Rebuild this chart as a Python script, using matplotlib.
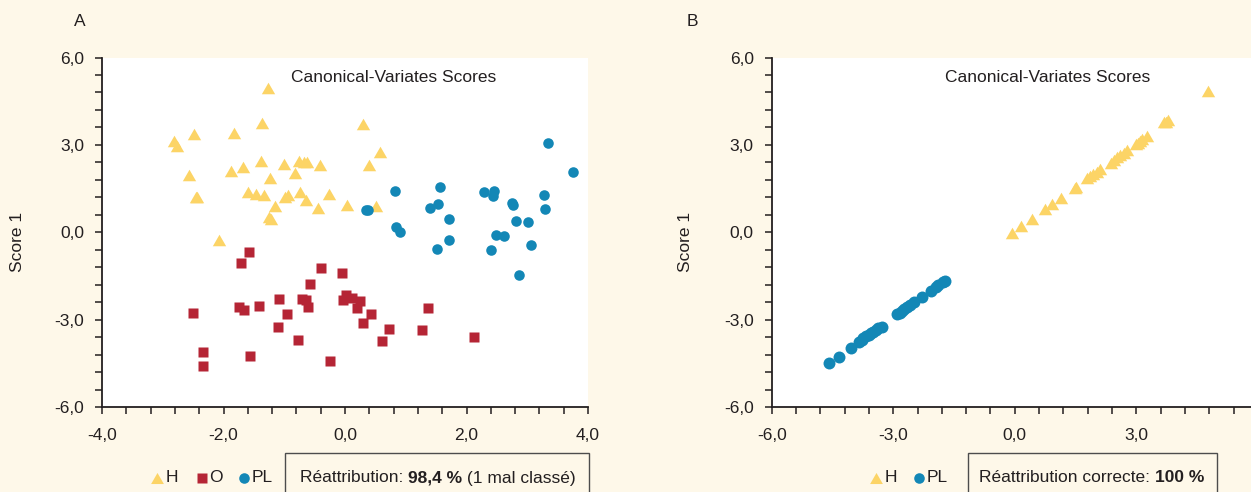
import numpy as np
import matplotlib
matplotlib.use("Agg")
import matplotlib.pyplot as plt
from matplotlib.lines import Line2D
from matplotlib.patches import Rectangle
from matplotlib.ticker import FuncFormatter, FixedLocator

plt.rcParams['font.family'] = ['Liberation Sans Narrow', 'Liberation Sans', 'DejaVu Sans']

# ---------------- data : panel A ----------------
a_h_x = [-1.27, -1.36, 0.30, -2.81, -2.76, -2.48, -1.83, 0.57, -2.57, -1.87, -1.68, -1.38,
         -1.23, -1.00, -0.82, -0.76, -0.63, -0.67, -0.41, 0.39, -2.43, -2.46, -1.59, -1.46,
         -1.34, -0.74, -0.94, -0.98, -0.26, -0.64, -1.15, 0.03, -0.44, 0.51, -1.25, -1.21, -2.07]
a_h_y = [4.94, 3.76, 3.72, 3.14, 2.96, 3.39, 3.42, 2.76, 1.98, 2.12, 2.24, 2.46,
         1.87, 2.36, 2.03, 2.46, 2.43, 2.43, 2.30, 2.30, 1.22, 1.20, 1.40, 1.31,
         1.29, 1.39, 1.27, 1.20, 1.31, 1.11, 0.92, 0.93, 0.83, 0.92, 0.52, 0.47, -0.27]

a_o_x = [-1.58, -1.72, -0.39, -0.05, -0.57, -2.51, -1.74, -1.66, -1.42, -1.08, -0.70, -0.64,
         -0.61, -0.96, -1.11, -0.78, -0.04, 0.01, 0.11, 0.24, 0.19, 0.42, 0.30, 0.73,
         0.61, 1.37, 1.26, 2.13, -2.33, -2.33, -1.57, -0.25]
a_o_y = [-0.66, -1.06, -1.22, -1.38, -1.78, -2.77, -2.56, -2.66, -2.54, -2.28, -2.30, -2.32,
         -2.57, -2.80, -3.26, -3.68, -2.32, -2.16, -2.24, -2.36, -2.60, -2.80, -3.10, -3.30,
         -3.73, -2.59, -3.35, -3.59, -4.09, -4.57, -4.24, -4.42]

a_pl_x = [0.82, 0.34, 0.38, 1.57, 1.40, 1.53, 1.72, 0.84, 0.90, 1.71, 1.51, 2.28, 2.45, 2.43,
          2.75, 2.77, 2.81, 3.02, 2.48, 2.61, 2.40, 3.06, 2.87, 3.28, 3.29, 3.34, 3.75]
a_pl_y = [1.42, 0.76, 0.77, 1.56, 0.84, 0.96, 0.47, 0.17, 0.01, -0.27, -0.56, 1.40, 1.42, 1.26,
          1.02, 0.94, 0.38, 0.37, -0.10, -0.12, -0.61, -0.42, -1.47, 1.29, 0.80, 3.08, 2.07]

# ---------------- data : panel B ----------------
b_h_x = [4.78, 3.69, 3.79, 3.74, 3.26, 3.15, 3.09, 3.04, 3.00, 2.77, 2.70, 2.60, 2.52, 2.45,
         2.37, 2.11, 2.03, 1.94, 1.86, 1.78, 1.50, 1.48, 1.13, 0.92, 0.75, 0.43, 0.16, -0.06]
b_h_y = [4.85, 3.78, 3.85, 3.80, 3.32, 3.20, 3.14, 3.08, 3.03, 2.83, 2.74, 2.65, 2.58, 2.48,
         2.39, 2.16, 2.08, 1.99, 1.92, 1.86, 1.57, 1.53, 1.19, 0.97, 0.80, 0.47, 0.22, -0.01]

b_pl_x = [-4.58, -4.35, -4.05, -3.84, -3.78, -3.74, -3.67, -3.61, -3.55, -3.49, -3.43, -3.37, -3.28,
          -2.90, -2.84, -2.79, -2.73, -2.67, -2.58, -2.49, -2.28, -2.07, -1.95, -1.89, -1.78, -1.72]
b_pl_y = [-4.49, -4.26, -3.95, -3.75, -3.69, -3.63, -3.57, -3.52, -3.46, -3.41, -3.35, -3.29, -3.23,
          -2.81, -2.76, -2.70, -2.64, -2.57, -2.49, -2.40, -2.23, -2.00, -1.87, -1.80, -1.69, -1.66]

a_xticks = [-4, -2, 0, 2, 4]
b_xticks = [-6, -3, 0, 3]
yticks = [-6, -3, 0, 3, 6]

panel_title = "Canonical-Variates Scores"
ylabel = "Score 1"

# ---------------- style ----------------
W, H = 1251, 492
BG = '#fef8e9'
YEL = '#fcd466'
RED = '#b52535'
BLU = '#1387b6'
TXT = '#231f20'
FS = 12.5

tri = [(-1, -0.866), (1, -0.866), (0, 0.866), (-1, -0.866)]

def fx(p):
    return p / W

def fy(p):
    return 1 - p / H

fig = plt.figure(figsize=(W / 100, H / 100), dpi=100, facecolor=BG)

bot = fy(407.3)
top = fy(57.5)
ax_a = fig.add_axes([fx(102), bot, fx(588) - fx(102), top - bot])
ax_b = fig.add_axes([fx(771.7), bot, 1 - fx(771.7), top - bot])

fmt = FuncFormatter(lambda v, p: f"{v:.1f}".replace('.', ','))

def style(ax, xlim, xmaj, xminstep):
    ax.set_facecolor('white')
    for s in ['top', 'right']:
        ax.spines[s].set_visible(False)
    for s in ['left', 'bottom']:
        ax.spines[s].set_linewidth(1.3)
        ax.spines[s].set_color(TXT)
    ax.set_xlim(*xlim)
    ax.set_ylim(-6, 6)
    ax.xaxis.set_major_locator(FixedLocator(xmaj))
    ax.xaxis.set_minor_locator(FixedLocator(np.arange(xlim[0], xlim[1] + 1e-6, xminstep)))
    ax.yaxis.set_major_locator(FixedLocator(yticks))
    ax.yaxis.set_minor_locator(FixedLocator(np.arange(-6, 6 + 1e-6, 0.6)))
    ax.xaxis.set_major_formatter(fmt)
    ax.yaxis.set_major_formatter(fmt)
    ax.tick_params(which='both', direction='out', length=5, width=1.1, color=TXT,
                   labelsize=FS, labelcolor=TXT)
    ax.tick_params(axis='x', which='both', pad=10)
    ax.tick_params(axis='y', which='both', pad=8)

style(ax_a, (-4, 4), a_xticks, 0.4)
style(ax_b, (-6, 5.83), b_xticks, 0.6)

ax_a.plot(a_h_x, a_h_y, ls='none', marker=tri, ms=9.6, color=YEL, mec='none', clip_on=False)
ax_a.plot(a_o_x, a_o_y, ls='none', marker='s', ms=6.9, color=RED, mec='none', clip_on=False)
ax_a.plot(a_pl_x, a_pl_y, ls='none', marker='o', ms=7.6, color=BLU, mec='none', clip_on=False)

ax_b.plot(b_h_x, b_h_y, ls='none', marker=tri, ms=9.6, color=YEL, mec='none', clip_on=False)
ax_b.plot(b_pl_x, b_pl_y, ls='none', marker='o', ms=8.6, color=BLU, mec='none', clip_on=False)

for cx in (394, 1047.5):
    fig.text(fx(cx), fy(77), panel_title, ha='center', va='center', fontsize=FS, color=TXT)

fig.text(fx(80), fy(22), 'A', ha='center', va='center', fontsize=FS, color=TXT)
fig.text(fx(692.5), fy(22), 'B', ha='center', va='center', fontsize=FS, color=TXT)
for cx in (17, 686):
    fig.text(fx(cx), fy(242), ylabel, ha='center', va='center', rotation=90, fontsize=FS, color=TXT)

# ---------------- legends ----------------
LY = 478

def leg_marker(cx, marker, color, ms):
    fig.add_artist(Line2D([fx(cx)], [fy(LY)], transform=fig.transFigure, ls='none',
                          marker=marker, ms=ms, color=color, mec='none'))

def leg_text(x, s):
    fig.text(fx(x), fy(LY), s, ha='left', va='center', fontsize=FS, color=TXT)

leg_marker(157, tri, YEL, 9.2); leg_text(166, 'H')
leg_marker(202, 's', RED, 6.8); leg_text(209, 'O')
leg_marker(244, 'o', BLU, 7.6); leg_text(252, 'PL')

leg_marker(876, tri, YEL, 9.2); leg_text(885, 'H')
leg_marker(918.5, 'o', BLU, 7.6); leg_text(927, 'PL')

for x0, x1 in ((285, 589), (968, 1217)):
    fig.add_artist(Rectangle((fx(x0), fy(520)), fx(x1) - fx(x0), fy(453) - fy(520),
                             transform=fig.transFigure, facecolor='none',
                             edgecolor='#4d4d4d', lw=1.0))

renderer = fig.canvas.get_renderer()

def segments(x, parts):
    xf = fx(x)
    for s, w in parts:
        t = fig.text(xf, fy(LY), s, ha='left', va='center', fontsize=FS, color=TXT, weight=w)
        bb = t.get_window_extent(renderer)
        xf = bb.x1 / fig.bbox.width

segments(300, [("Réattribution: ", 'normal'), ("98,4 %", 'bold'), (" (1 mal classé)", 'normal')])
segments(979, [("Réattribution correcte: ", 'normal'), ("100 %", 'bold')])

fig.savefig('out.png', dpi=100, facecolor=BG)
